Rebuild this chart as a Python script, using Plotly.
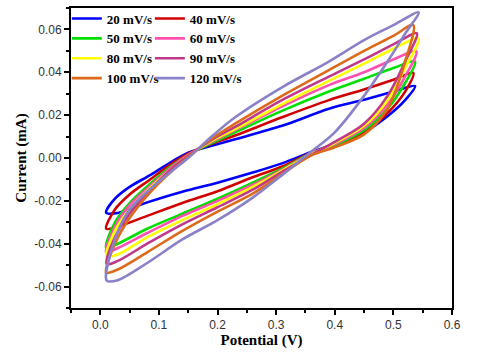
'''
    Cyclic voltammetry loops at several scan rates.
'''
import plotly.graph_objects as go

# scan rates and trace colours
scan_rates = ['20 mV/s', '40 mV/s', '50 mV/s', '60 mV/s',
              '80 mV/s', '90 mV/s', '100 mV/s', '120 mV/s']
colors = ['#0000FF', '#D00000', '#00E000', '#FF4FB0',
          '#FFFF00', '#C0388A', '#DC6A1A', '#8A82C8']

# potential grid of the lower (left -> right) and upper (right -> left) branches
v_lower = [0.03, 0.08, 0.14, 0.20, 0.26, 0.31, 0.36, 0.40, 0.45, 0.49, 0.52]
v_upper = [0.50, 0.45, 0.39, 0.31, 0.23, 0.19, 0.15, 0.12, 0.085, 0.05, 0.025]

# turning points (V, mA)
left_tip = [(0.010, -0.0255), (0.010, -0.033), (0.010, -0.042), (0.010, -0.044),
            (0.011, -0.046), (0.011, -0.0495), (0.010, -0.0535), (0.011, -0.0572)]
right_tip = [(0.537, 0.0336), (0.534, 0.0397), (0.537, 0.045), (0.539, 0.0497),
             (0.543, 0.0558), (0.540, 0.0582), (0.534, 0.062), (0.543, 0.068)]

# current on the lower branch (mA)
i_lower = [
    [-0.0257, -0.0207, -0.0157, -0.0115, -0.0068, -0.0025, 0.0028, 0.0065, 0.012, 0.0195, 0.027],
    [-0.032, -0.027, -0.021, -0.0155, -0.0090, -0.004, 0.0025, 0.006, 0.012, 0.021, 0.031],
    [-0.040, -0.033, -0.026, -0.019, -0.0115, -0.005, 0.0022, 0.006, 0.013, 0.023, 0.035],
    [-0.042, -0.035, -0.027, -0.020, -0.0125, -0.0055, 0.002, 0.0065, 0.014, 0.025, 0.038],
    [-0.045, -0.037, -0.029, -0.0215, -0.0135, -0.006, 0.0018, 0.007, 0.015, 0.027, 0.042],
    [-0.048, -0.040, -0.031, -0.023, -0.0148, -0.0065, 0.0015, 0.0075, 0.016, 0.029, 0.045],
    [-0.052, -0.044, -0.034, -0.025, -0.0166, -0.0075, 0.0012, 0.005, 0.011, 0.023, 0.045],
    [-0.057, -0.049, -0.038, -0.029, -0.0185, -0.008, 0.003, 0.012, 0.029, 0.045, 0.058],
]

# current on the upper branch (mA)
i_upper = [
    [0.031, 0.0272, 0.023, 0.0150, 0.0088, 0.0057, 0.0025, -0.002, -0.008, -0.0135, -0.019],
    [0.0365, 0.032, 0.027, 0.019, 0.0105, 0.0066, 0.002, -0.003, -0.010, -0.017, -0.024],
    [0.042, 0.037, 0.031, 0.022, 0.012, 0.007, 0.0015, -0.004, -0.012, -0.021, -0.030],
    [0.046, 0.040, 0.034, 0.024, 0.013, 0.0075, 0.0015, -0.0045, -0.013, -0.022, -0.032],
    [0.051, 0.044, 0.036, 0.025, 0.0135, 0.008, 0.001, -0.0055, -0.014, -0.024, -0.034],
    [0.053, 0.046, 0.038, 0.027, 0.0145, 0.0085, 0.001, -0.0055, -0.015, -0.026, -0.037],
    [0.057, 0.050, 0.041, 0.029, 0.016, 0.009, 0.0005, -0.0065, -0.016, -0.028, -0.040],
    [0.062, 0.055, 0.045, 0.033, 0.019, 0.010, 0.000, -0.0065, -0.0145, -0.024, -0.038],
]

x_ticks = [0.0, 0.1, 0.2, 0.3, 0.4, 0.5, 0.6]
y_ticks = [-0.06, -0.04, -0.02, 0.0, 0.02, 0.04, 0.06]

TITLE_FONT = dict(family='Liberation Serif', size=15, color='black', weight='bold')
TICK_FONT = dict(family='Liberation Sans', size=12, color='#333333')


def loop(k):
    '''
        Closed loop of one scan: left tip, lower branch,
        right tip, upper branch and back to the left tip.
    '''
    xs = [left_tip[k][0]] + v_lower + [right_tip[k][0]] + v_upper + [left_tip[k][0]]
    ys = [left_tip[k][1]] + i_lower[k] + [right_tip[k][1]] + i_upper[k] + [left_tip[k][1]]
    return xs, ys


fig = go.Figure()

for k, name in enumerate(scan_rates):
    xs, ys = loop(k)
    fig.add_trace(go.Scatter(
        x=xs, y=ys, name=name, mode='lines',
        line=dict(color=colors[k], width=2.6, shape='spline', smoothing=0.9),
        legend='legend' if k % 2 == 0 else 'legend2'
    ))

legend_style = dict(
    font=dict(family='Liberation Serif', size=13, color='black', weight='bold'),
    bgcolor='rgba(0,0,0,0)', yanchor='top', y=1.015, xanchor='left',
    tracegroupgap=0, itemwidth=30
)

fig.update_layout(
    width=480, height=356,
    margin=dict(l=71, r=28, t=4, b=48),
    plot_bgcolor='white', paper_bgcolor='white',
    legend=dict(x=-0.011, **legend_style),
    legend2=dict(x=0.207, **legend_style),
    xaxis=dict(
        range=[-0.05, 0.6], tickvals=x_ticks, ticktext=['%.1f' % v for v in x_ticks],
        ticks='outside', ticklen=5, tickwidth=1.5, tickcolor='black',
        minor=dict(ticks='outside', ticklen=3, dtick=0.05, tick0=0, tickcolor='black', tickwidth=1.5),
        showline=True, linecolor='black', linewidth=2, mirror=True,
        showgrid=False, zeroline=False, tickfont=TICK_FONT,
        title=dict(text='Potential (V)', font=TITLE_FONT, standoff=3)
    ),
    yaxis=dict(
        range=[-0.07, 0.07], tickvals=y_ticks, ticktext=['%.2f' % v for v in y_ticks],
        ticks='outside', ticklen=5, tickwidth=1.5, tickcolor='black',
        minor=dict(ticks='outside', ticklen=3, dtick=0.01, tick0=0, tickcolor='black', tickwidth=1.5),
        showline=True, linecolor='black', linewidth=2, mirror=True,
        showgrid=False, zeroline=False, tickfont=TICK_FONT,
        title=dict(text='Current (mA)', font=TITLE_FONT, standoff=4)
    ),
)

# the page's default body margin would shift the figure by 8 px
fig.write_html('out.html', config={'displayModeBar': False},
               post_script="document.body.style.margin = '0';")
